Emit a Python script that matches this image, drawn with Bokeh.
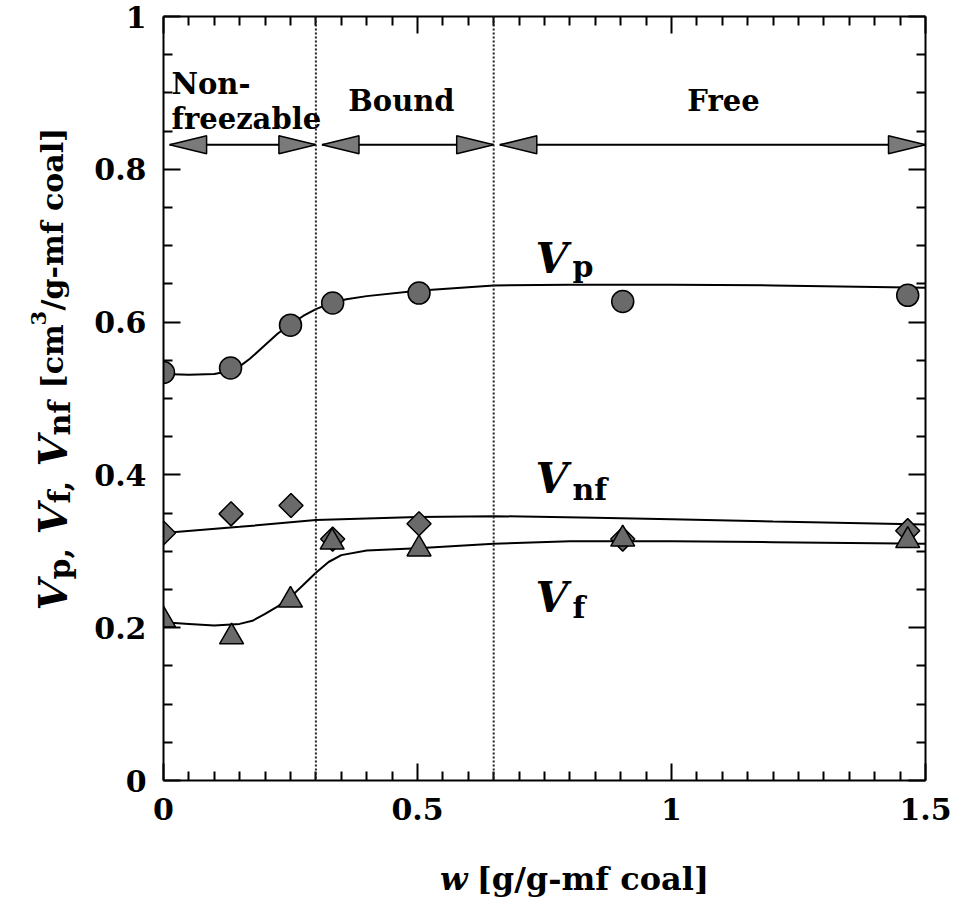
import numpy as np
from bokeh.plotting import figure
from bokeh.layouts import row, column
from bokeh.models import Range1d, FixedTicker, LinearAxis, Span, Label
from bokeh.embed import file_html
from bokeh.resources import INLINE

# ---------------- data ----------------
w_p = [0.0, 0.132, 0.25, 0.333, 0.503, 0.904, 1.465]
v_p = [0.534, 0.540, 0.596, 0.625, 0.638, 0.627, 0.635]

w_nf = [0.0, 0.133, 0.251, 0.333, 0.503, 0.904, 1.465]
v_nf = [0.324, 0.349, 0.360, 0.316, 0.336, 0.316, 0.327]

w_f = [0.0, 0.134, 0.25, 0.332, 0.503, 0.904, 1.465]
v_f = [0.210, 0.188, 0.236, 0.312, 0.303, 0.316, 0.314]

fit_w_p = [0.0, 0.05, 0.1, 0.13, 0.15, 0.17, 0.2, 0.225, 0.25, 0.275, 0.3, 0.33, 0.36, 0.4, 0.5, 0.65, 0.8, 1.0, 1.2, 1.5]
fit_v_p = [0.532, 0.531, 0.532, 0.536, 0.542, 0.552, 0.570, 0.585, 0.597, 0.608, 0.617, 0.625, 0.630, 0.634, 0.641, 0.648, 0.649, 0.649, 0.648, 0.645]

fit_w_nf = [0.0, 0.15, 0.3, 0.5, 0.65, 0.85, 1.0, 1.2, 1.5]
fit_v_nf = [0.324, 0.332, 0.341, 0.345, 0.346, 0.344, 0.342, 0.339, 0.335]

fit_w_f = [0.0, 0.05, 0.1, 0.15, 0.175, 0.2, 0.225, 0.25, 0.275, 0.3, 0.325, 0.35, 0.4, 0.5, 0.65, 0.8, 1.0, 1.2, 1.5]
fit_v_f = [0.207, 0.205, 0.203, 0.205, 0.209, 0.218, 0.228, 0.240, 0.256, 0.272, 0.286, 0.295, 0.301, 0.304, 0.310, 0.313, 0.313, 0.312, 0.310]

region_bounds = [0.0, 0.3, 0.65, 1.5]
arrow_level = 0.832

x_ticks = [0, 0.5, 1, 1.5]
x_tick_labels = ["0", "0.5", "1", "1.5"]
y_ticks = [0, 0.2, 0.4, 0.6, 0.8, 1]
y_tick_labels = ["0", "0.2", "0.4", "0.6", "0.8", "1"]

# ---------------- layout geometry (canvas px) ----------------
SERIF = "DejaVu Serif"
GRAY = "#6a6a6a"
TICK_FONT = "30px"

W, H = 961, 897
YLAB_W = 85           # strip on the left holding the y-axis title
MAIN_H = 840          # main figure height, strip below holds x-axis title
L, R, T, B = 163, 925, 16, 780
X0, X1, Y0, Y1 = 0.0, 1.5, 0.0, 1.0
sx = (R - L) / (X1 - X0)
sy = (B - T) / (Y1 - Y0)


def dx(px):
    return X0 + (px - L) / sx


def dy(py):
    return Y0 + (B - py) / sy


p = figure(width=W - YLAB_W, height=MAIN_H, output_backend="svg", toolbar_location=None,
           x_range=Range1d(X0, X1), y_range=Range1d(Y0, Y1),
           min_border_left=L - YLAB_W, min_border_right=W - R,
           min_border_top=T, min_border_bottom=MAIN_H - B)
p.grid.visible = False
p.outline_line_color = None

x_minor = [round(0.05 * i, 2) for i in range(31) if i % 10 != 0]
y_minor = [round(0.05 * i, 2) for i in range(21) if i % 4 != 0]


def style_axis(ax, ticks, minor, labels):
    ax.ticker = FixedTicker(ticks=ticks, minor_ticks=minor)
    ax.axis_line_width = 2
    ax.axis_line_color = "black"
    ax.major_tick_in = 17
    ax.major_tick_out = 0
    ax.minor_tick_in = 9
    ax.minor_tick_out = 0
    ax.major_tick_line_width = 2
    ax.minor_tick_line_width = 2
    ax.major_tick_line_color = "black"
    ax.minor_tick_line_color = "black"
    if labels is None:
        ax.major_label_overrides = {t: "" for t in ticks}
        ax.major_label_text_font_size = "1px"
        ax.major_label_standoff = 0
    else:
        ax.major_label_overrides = {t: s for t, s in zip(ticks, labels)}
        ax.major_label_text_font = SERIF
        ax.major_label_text_font_style = "bold"
        ax.major_label_text_font_size = TICK_FONT
        ax.major_label_text_color = "black"
        ax.major_label_standoff = 17


style_axis(p.xaxis[0], x_ticks, x_minor, x_tick_labels)
style_axis(p.yaxis[0], y_ticks, y_minor, y_tick_labels)
top_ax = LinearAxis()
right_ax = LinearAxis()
style_axis(top_ax, x_ticks, x_minor, None)
style_axis(right_ax, y_ticks, y_minor, None)
p.add_layout(top_ax, "above")
p.add_layout(right_ax, "right")

# region boundaries (dotted)
for b in region_bounds[1:-1]:
    p.add_layout(Span(location=b, dimension="height", line_color="#222222",
                      line_width=2, line_dash="2 2"))

# fitted curves
p.line(fit_w_p, fit_v_p, line_color="black", line_width=2)
p.line(fit_w_nf, fit_v_nf, line_color="black", line_width=2)
p.line(fit_w_f, fit_v_f, line_color="black", line_width=2)

# markers
p.scatter(w_nf, v_nf, marker="square", angle=np.pi / 4, size=17,
          fill_color=GRAY, line_color="black", line_width=1.5)
p.scatter(w_f, v_f, marker="triangle", size=24,
          fill_color=GRAY, line_color="black", line_width=1.5)
p.scatter(w_p, v_p, marker="circle", size=22,
          fill_color=GRAY, line_color="black", line_width=1.5)

# region arrows
gap = 0.012
head_len = 37 / sx
head_hw = 9 / sy
heads_x, heads_y = [], []
for i in range(len(region_bounds) - 1):
    xl = region_bounds[i] + gap
    xr = region_bounds[i + 1]
    p.line([xl, xr], [arrow_level, arrow_level], line_color="black", line_width=2)
    heads_x.append([xl, xl + head_len, xl + head_len])
    heads_y.append([arrow_level, arrow_level + head_hw, arrow_level - head_hw])
    heads_x.append([xr, xr - head_len, xr - head_len])
    heads_y.append([arrow_level, arrow_level + head_hw, arrow_level - head_hw])
p.patches(heads_x, heads_y, fill_color="#7a7a7a", line_color="black", line_width=1.5)


def lab(fig, x, y, text, size, style="bold", align="left", angle=0.0):
    fig.add_layout(Label(x=x, y=y, text=text, text_font=SERIF, text_font_style=style,
                         text_font_size=size, text_align=align, text_baseline="alphabetic",
                         text_color="black", angle=angle))


# region names
lab(p, dx(171), dy(83), "Non-", "29px")
lab(p, dx(171), dy(118), "freezable", "29px")
lab(p, dx(401), dy(100), "Bound", "29px", align="center")
lab(p, dx(723), dy(100), "Free", "29px", align="center")

# curve labels
lab(p, dx(535), dy(258), "V", "42px", style="bold italic")
lab(p, dx(572), dy(266), "p", "30px")
lab(p, dx(535), dy(478), "V", "42px", style="bold italic")
lab(p, dx(572), dy(489), "nf", "30px")
lab(p, dx(535), dy(597), "V", "42px", style="bold italic")
lab(p, dx(572), dy(607), "f", "30px")


def blank(width, height, xr, yr):
    f = figure(width=width, height=height, output_backend="svg", toolbar_location=None,
               x_range=xr, y_range=yr, min_border=0,
               x_axis_location=None, y_axis_location=None)
    f.grid.visible = False
    f.outline_line_color = None
    return f


# y-axis title strip: coordinates are canvas pixels (y grows downward)
ylab = blank(YLAB_W, H, Range1d(0, YLAB_W), Range1d(H, 0))
ang = np.pi / 2
bx = 52
# (text, font size, style, baseline shift, advance in px)
pieces = [
    ("V", "40px", "bold italic", 0, 31),
    ("p,", "30px", "bold", 7, 33),
    (" ", None, None, 0, 12),
    ("V", "40px", "bold italic", 0, 31),
    ("f,", "30px", "bold", 7, 25),
    (" ", None, None, 0, 12),
    ("V", "40px", "bold italic", 0, 31),
    ("nf", "30px", "bold", 7, 35),
    (" ", None, None, 0, 12),
    ("[cm", "30px", "bold", 0, 63),
    ("3", "21px", "bold", -14, 15),
    ("/g-mf coal]", "30px", "bold", 0, 183),
]
pos = 610
for t, s, st, shift, adv in pieces:
    if s is not None:
        lab(ylab, bx + shift, pos, t, s, style=st, angle=ang)
    pos -= adv

# x-axis title strip
xlab = blank(W - YLAB_W, H - MAIN_H, Range1d(YLAB_W, W), Range1d(H, MAIN_H))
lab(xlab, 403, 878, "w", "32px", style="bold italic")
lab(xlab, 445, 878, "[g/g-mf coal]", "32px")

layout = row(ylab, column(p, xlab, spacing=0), spacing=0)
open("out.html", "w").write(file_html(layout, INLINE))
